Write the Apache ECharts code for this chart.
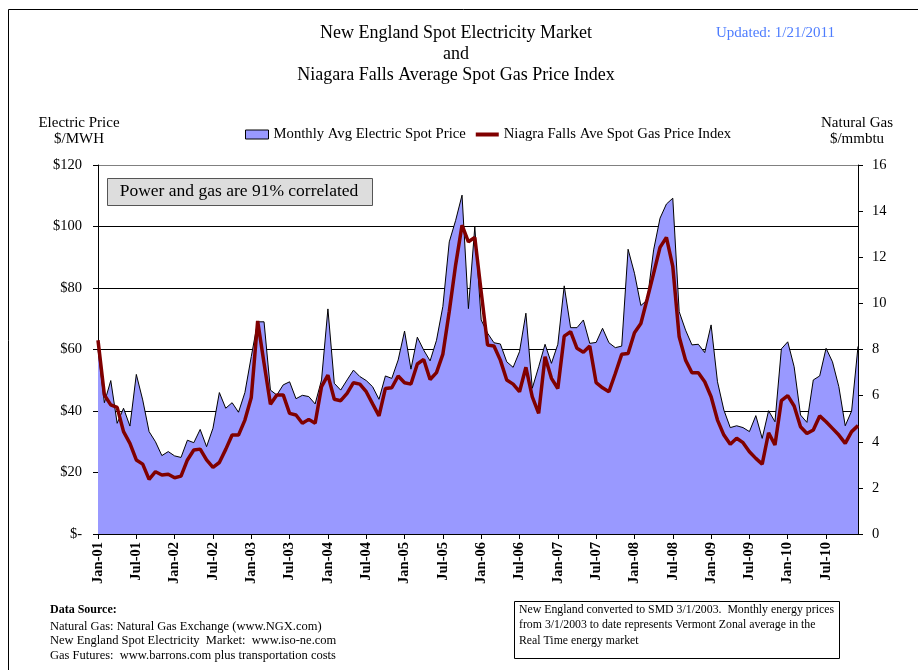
<!DOCTYPE html>
<html>
<head>
<meta charset="utf-8">
<script src="https://cdn.jsdelivr.net/npm/echarts@6/dist/echarts.min.js"></script>
<style>
  html, body { margin: 0; padding: 0; background: #fff; }
  #chart { width: 918px; height: 670px; }
</style>
</head>
<body>
<div id="chart"></div>
<script>
// month labels Jan-01 .. Dec-10
var years = ["01", "02", "03", "04", "05", "06", "07", "08", "09", "10"];
var months = ["Jan", "Feb", "Mar", "Apr", "May", "Jun", "Jul", "Aug", "Sep", "Oct", "Nov", "Dec"];
var categories = [];
years.forEach(function (y) {
  months.forEach(function (m) { categories.push(m + "-" + y); });
});

// Monthly Avg Electric Spot Price ($/MWH)
var electric = [
  60, 42.7, 49.9, 36, 40.9, 35.1, 51.9, 43.6, 33.3, 30, 25.5, 26.8,
  25.4, 24.9, 30.5, 29.7, 34, 28.4, 34.4, 46, 40.9, 42.7, 39.6, 46,
  57.7, 69, 69, 46.8, 45.2, 48.5, 49.5, 44, 45.1, 44.7, 42.3, 50.1,
  73.2, 49, 46.8, 50.1, 53.3, 51.2, 49.9, 47.9, 43.8, 51.4, 50.6, 56.6,
  66, 53.6, 64, 59.8, 56.3, 63, 74, 95, 102, 110.2, 73.3, 99.9,
  69.6, 65.3, 62.2, 61.8, 56, 54.2, 59.3, 71.8, 47.4, 54.4, 61.7, 55.5,
  61.7, 80.7, 67.1, 67.1, 69.6, 62, 62.3, 66.9, 62.2, 60.6, 61.1, 92.6,
  84.8, 74.3, 76.1, 92.4, 102.7, 107.3, 109.2, 72.3, 66.3, 61.5, 61.7, 59,
  68, 49.5, 40.3, 34.6, 35.2, 34.6, 33.3, 38.5, 31.1, 40.1, 36.5, 60.2,
  62.5, 54.4, 38.7, 36.3, 50.1, 51.4, 60.4, 56, 47.9, 35.2, 40, 61
];

// Niagra Falls Ave Spot Gas Price Index ($/mmbtu)
var gas = [
  8.4, 6.03, 5.6, 5.49, 4.44, 3.93, 3.21, 3.03, 2.37, 2.7, 2.56, 2.59,
  2.44, 2.51, 3.21, 3.64, 3.68, 3.21, 2.89, 3.1, 3.67, 4.29, 4.29, 4.94,
  5.92, 9.24, 7.4, 5.63, 6.03, 6.03, 5.23, 5.16, 4.8, 4.97, 4.8, 6.39,
  6.89, 5.84, 5.78, 6.1, 6.56, 6.5, 6.17, 5.64, 5.12, 6.31, 6.34, 6.85,
  6.56, 6.5, 7.37, 7.57, 6.7, 7.0, 7.8, 9.65, 11.67, 13.39, 12.67, 12.86,
  10.5, 8.19, 8.15, 7.54, 6.68, 6.5, 6.17, 7.23, 5.95, 5.23, 7.69, 6.75,
  6.31, 8.58, 8.77, 8.05, 7.88, 8.15, 6.56, 6.34, 6.17, 6.96, 7.79, 7.83,
  8.73, 9.13, 10.2, 11.3, 12.43, 12.86, 11.6, 8.55, 7.54, 6.99, 6.99, 6.6,
  5.95, 4.94, 4.29, 3.89, 4.15, 3.96, 3.57, 3.28, 3.03, 4.39, 3.86, 5.78,
  6, 5.55, 4.65, 4.36, 4.51, 5.12, 4.87, 4.58, 4.29, 3.93, 4.44, 4.7
];

var serif = "'Liberation Serif', 'Times New Roman', serif";

var myChart = echarts.init(document.getElementById("chart"));
var option = {
  animation: false,
  textStyle: { fontFamily: serif, color: "#000" },
  title: {
    text: "New England Spot Electricity Market\nand\nNiagara Falls Average Spot Gas Price Index",
    left: 451,
    top: 18,
    textAlign: "center",
    textStyle: { fontFamily: serif, fontSize: 18, fontWeight: "normal", lineHeight: 21, color: "#000" }
  },
  legend: {
    left: 240,
    top: 122,
    itemWidth: 23,
    itemHeight: 9,
    itemGap: 10,
    textStyle: { fontFamily: serif, fontSize: 14.7, color: "#000" },
    data: [
      { name: "Monthly Avg Electric Spot Price", icon: "rect",
        itemStyle: { color: "#9999FF", borderColor: "#000", borderWidth: 1 } },
      { name: "Niagra Falls Ave Spot Gas Price Index", icon: "path://M0,0h23v4h-23z",
        itemStyle: { color: "#800000", borderWidth: 0 } }
    ]
  },
  grid: { left: 98, right: 60, top: 165, bottom: 136 },
  xAxis: {
    type: "category",
    boundaryGap: false,
    data: categories,
    axisLine: { lineStyle: { color: "#000", width: 1 } },
    axisTick: { interval: 5, length: 5, lineStyle: { color: "#000" } },
    axisLabel: {
      interval: 5,
      rotate: 90,
      margin: 8,
      fontFamily: serif,
      fontSize: 14.5,
      fontWeight: "bold",
      color: "#000"
    },
    splitLine: { show: false }
  },
  yAxis: [
    {
      type: "value",
      min: 0,
      max: 120,
      interval: 20,
      axisLine: { show: true, lineStyle: { color: "#000" } },
      axisTick: { show: true, length: 5, lineStyle: { color: "#000" } },
      axisLabel: {
        margin: 16,
        fontFamily: serif,
        fontSize: 14.5,
        color: "#000",
        formatter: function (v) { return v === 0 ? "$-" : "$" + v; }
      },
      splitLine: {
        show: true,
        lineStyle: { color: ["#000", "#000", "#000", "#000", "#000", "#000", "#808080"], width: 1 }
      }
    },
    {
      type: "value",
      min: 0,
      max: 16,
      interval: 2,
      position: "right",
      axisLine: { show: true, lineStyle: { color: "#000" } },
      axisTick: { show: true, length: 5, lineStyle: { color: "#000" } },
      axisLabel: { margin: 14, fontFamily: serif, fontSize: 14.5, color: "#000" },
      splitLine: { show: false }
    }
  ],
  graphic: [
    { type: "rect", left: 6, top: 7, shape: { width: 940, height: 700 },
      style: { fill: "none", stroke: "#000", lineWidth: 1 }, silent: true },
    { type: "text", left: 716, top: 26,
      style: { text: "Updated: 1/21/2011", fill: "#4D7CFE", font: "15px " + serif } },
    { type: "text", x: 79, y: 115,
      style: { text: "Electric Price\n$/MWH", fill: "#000", font: "15px " + serif, align: "center", lineHeight: 16 } },
    { type: "text", x: 857, y: 115,
      style: { text: "Natural Gas\n$/mmbtu", fill: "#000", font: "15px " + serif, align: "center", lineHeight: 16 } },
    { type: "rect", left: 107, top: 178, z: 10, shape: { width: 265, height: 27 },
      style: { fill: "#DDDDDD", stroke: "#555", lineWidth: 1 } },
    { type: "text", x: 239, y: 182, z: 11,
      style: { text: "Power and gas are 91% correlated", fill: "#000", font: "17.5px " + serif, align: "center" } },
    { type: "text", left: 50, top: 604,
      style: { text: "Data Source:", fill: "#000", font: "bold 12px " + serif } },
    { type: "text", left: 50, top: 619,
      style: {
        text: "Natural Gas: Natural Gas Exchange (www.NGX.com)\nNew England Spot Electricity  Market:  www.iso-ne.com\nGas Futures:  www.barrons.com plus transportation costs",
        fill: "#000", font: "12.5px " + serif, lineHeight: 14.5 } },
    { type: "rect", left: 514, top: 601, shape: { width: 325, height: 57 },
      style: { fill: "#fff", stroke: "#000", lineWidth: 1 } },
    { type: "text", left: 519, top: 602,
      style: {
        text: "New England converted to SMD 3/1/2003.  Monthly energy prices\nfrom 3/1/2003 to date represents Vermont Zonal average in the\nReal Time energy market",
        fill: "#000", font: "11.8px " + serif, lineHeight: 15.5 } }
  ],
  series: [
    {
      name: "Monthly Avg Electric Spot Price",
      type: "line",
      yAxisIndex: 0,
      data: electric,
      symbol: "none",
      lineStyle: { color: "#000", width: 1 },
      itemStyle: { color: "#9999FF" },
      areaStyle: { color: "#9999FF", opacity: 1 },
      z: 2
    },
    {
      name: "Niagra Falls Ave Spot Gas Price Index",
      type: "line",
      yAxisIndex: 1,
      data: gas,
      symbol: "none",
      lineStyle: { color: "#800000", width: 3.5 },
      itemStyle: { color: "#800000" },
      z: 3
    }
  ]
};

option && myChart.setOption(option);
</script>
</body>
</html>
